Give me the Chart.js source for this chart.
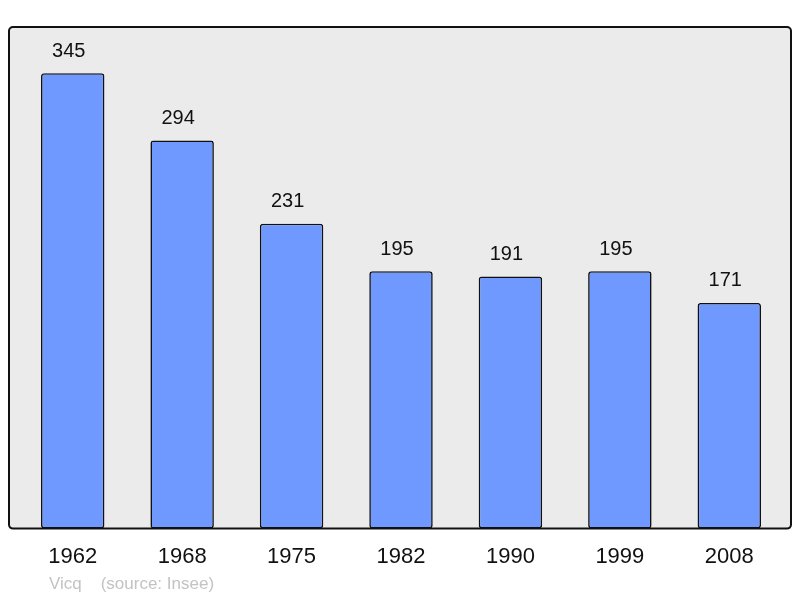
<!DOCTYPE html>
<html>
<head>
<meta charset="utf-8">
<script src="https://cdn.jsdelivr.net/npm/chart.js@4/dist/chart.umd.min.js"></script>
<style>
  body { margin: 0; background: #fff; }
  #wrap { position: relative; width: 800px; height: 598px; }
  #footer {
    position: absolute; left: 49px; top: 574px;
    font-family: "Liberation Sans", Arial, sans-serif; font-size: 17px; color: #c3c3c3;
    white-space: pre;
  }
</style>
</head>
<body>
<div id="wrap">
  <canvas id="chart" width="800" height="598"></canvas>
  <div id="footer">Vicq    (source: Insee)</div>
</div>
<script>
const years = ['1962', '1968', '1975', '1982', '1990', '1999', '2008'];
const population = [345, 294, 231, 195, 191, 195, 171];

// grey frame behind the bars, border drawn on top
const framePlugin = {
  id: 'frame',
  beforeDatasetsDraw(chart) {
    const { ctx, chartArea: a } = chart;
    ctx.save();
    ctx.beginPath();
    ctx.roundRect(a.left - 9, a.top, a.right - a.left + 16, a.bottom - a.top, 4);
    ctx.fillStyle = '#ebebeb';
    ctx.fill();
    ctx.restore();
  },
  afterDatasetsDraw(chart) {
    const { ctx, chartArea: a } = chart;
    ctx.save();
    ctx.beginPath();
    ctx.roundRect(a.left - 9, a.top, a.right - a.left + 16, a.bottom - a.top, 4);
    ctx.lineWidth = 2;
    ctx.strokeStyle = '#111';
    ctx.stroke();

    // value labels above bars
    ctx.font = '20px "Liberation Sans", Arial, sans-serif';
    ctx.fillStyle = '#111';
    ctx.textAlign = 'center';
    ctx.textBaseline = 'middle';
    chart.getDatasetMeta(0).data.forEach((bar, i) => {
      ctx.fillText(population[i], bar.x - 4, bar.y - 22);
    });
    ctx.restore();
  }
};

new Chart(document.getElementById('chart'), {
  type: 'bar',
  data: {
    labels: years,
    datasets: [{
      data: population,
      backgroundColor: '#7099ff',
      borderColor: '#111',
      borderWidth: 1.6,
      borderRadius: 3,
      borderSkipped: false,
      barPercentage: 0.58,
      categoryPercentage: 1
    }]
  },
  options: {
    responsive: false,
    animation: false,
    layout: { padding: { top: 27, left: 18, right: 16, bottom: 13 } },
    plugins: { legend: { display: false }, tooltip: { enabled: false } },
    scales: {
      x: {
        grid: { display: false, drawTicks: false },
        border: { display: false },
        ticks: {
          color: '#111',
          padding: 15,
          font: { family: '"Liberation Sans", Arial, sans-serif', size: 22 }
        }
      },
      y: { display: false, min: 0, max: 380 }
    }
  },
  plugins: [framePlugin]
});
</script>
</body>
</html>
